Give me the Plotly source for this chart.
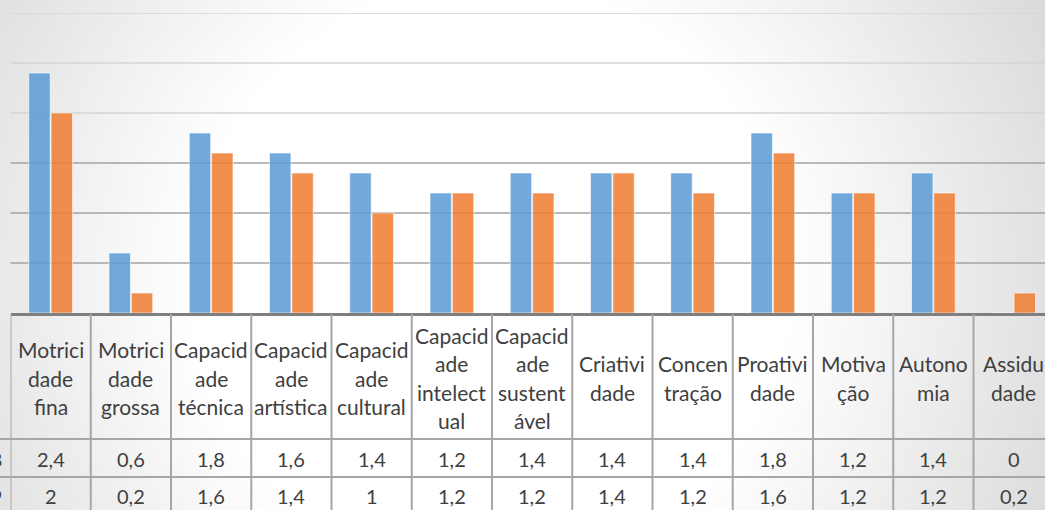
"""Gráfico de barras agrupadas com tabela de dados (estilo Excel)."""

import base64
import math
import struct
import zlib

import plotly.graph_objects as go

# --- dados -----------------------------------------------------------------
categorias = [
    "Motricidade fina", "Motricidade grossa", "Capacidade técnica",
    "Capacidade artística", "Capacidade cultural", "Capacidade intelectual",
    "Capacidade sustentável", "Criatividade", "Concentração", "Proatividade",
    "Motivação", "Autonomia", "Assiduidade",
]
# rótulos quebrados como aparecem nas células da tabela
rotulos_tabela = [
    ["Motrici", "dade", "fina"], ["Motrici", "dade", "grossa"],
    ["Capacid", "ade", "técnica"], ["Capacid", "ade", "artística"],
    ["Capacid", "ade", "cultural"], ["Capacid", "ade", "intelect", "ual"],
    ["Capacid", "ade", "sustent", "ável"], ["Criativi", "dade"],
    ["Concen", "tração"], ["Proativi", "dade"], ["Motiva", "ção"],
    ["Autono", "mia"], ["Assidu", "dade"],
]
serie_1_nome = "2018"
serie_1 = [2.4, 0.6, 1.8, 1.6, 1.4, 1.2, 1.4, 1.4, 1.4, 1.8, 1.2, 1.4, 0]
serie_2_nome = "2019"
serie_2 = [2, 0.2, 1.6, 1.4, 1, 1.2, 1.2, 1.4, 1.2, 1.6, 1.2, 1.2, 0.2]
grade_y = [0.5, 1.0, 1.5, 2.0, 2.5, 3.0]

# --- estilo ----------------------------------------------------------------
W, H = 1045, 510
AZUL = "rgba(91,155,213,0.86)"
LARANJA = "rgba(237,125,49,0.86)"
TEXTO = "#404040"
LINHA_TAB = "#a6a6a6"
FONTE = "Lato, 'Open Sans', sans-serif"

X0 = 10.5          # borda esquerda da área de plotagem (px)
COL = 80.25        # largura de cada coluna/categoria (px)
Y_BASE = 313       # linha de base (px)
Y_TOPO = 13        # linha de grade de 3,0 (px)


def py(px):
    """px a partir do topo -> coordenada 'paper'."""
    return 1 - px / H


def _fundo_png():
    """Gradiente radial cinza/branco, como o fundo do gráfico original."""
    esc = 4
    w, h = W // esc + 1, H // esc + 1
    linhas = []
    for j in range(h):
        row = bytearray([0])
        for i in range(w):
            d = math.hypot(i * esc - 490, j * esc - 280)
            t = min(max((d - 300) / 350, 0), 1)
            row.append(int(round(255 - 40 * t)))
        linhas.append(bytes(row))

    def chunk(tag, data):
        return (struct.pack(">I", len(data)) + tag + data
                + struct.pack(">I", zlib.crc32(tag + data) & 0xFFFFFFFF))

    png = (b"\x89PNG\r\n\x1a\n"
           + chunk(b"IHDR", struct.pack(">IIBBBBB", w, h, 8, 0, 0, 0, 0))
           + chunk(b"IDAT", zlib.compress(b"".join(linhas), 9))
           + chunk(b"IEND", b""))
    return "data:image/png;base64," + base64.b64encode(png).decode()


fig = go.Figure()
for nome, valores, cor in [(serie_1_nome, serie_1, AZUL), (serie_2_nome, serie_2, LARANJA)]:
    fig.add_trace(go.Bar(
        x=list(range(len(categorias))), y=valores, name=nome,
        marker=dict(color=cor, line=dict(color="rgba(255,255,255,0.6)", width=1)),
        hovertext=categorias,
    ))

shapes = []
# linhas de grade (as de cima aparecem mais claras no original)
for v in grade_y:
    shapes.append(dict(
        type="line", xref="paper", yref="y", x0=X0 / W, x1=1, y0=v, y1=v,
        line=dict(color="#d4d4d4" if v >= 2 else "#a3a3a3", width=1.6),
        layer="below",
    ))

# tabela de dados: verticais nas fronteiras das categorias
for i in range(len(categorias) + 1):
    shapes.append(dict(
        type="line", xref="x", yref="paper", x0=i - 0.5, x1=i - 0.5,
        y0=py(Y_BASE + 1), y1=0, line=dict(color=LINHA_TAB, width=2),
    ))
# horizontais (cabeçalho / linhas de valores)
for yy in [439, 477]:
    shapes.append(dict(
        type="line", xref="paper", yref="paper", x0=0, x1=1, y0=py(yy), y1=py(yy),
        line=dict(color=LINHA_TAB, width=2),
    ))

anot = []
ESP = 28.5
for i, linhas in enumerate(rotulos_tabela):
    y_ini = 378 - ESP * (len(linhas) - 1) / 2
    for k, txt in enumerate(linhas):
        anot.append(dict(
            x=i, xref="x", y=py(y_ini + k * ESP), yref="paper", text=txt,
            showarrow=False, xanchor="center", yanchor="middle",
            font=dict(size=21, color=TEXTO),
        ))
for y_lin, valores, nome in [(459, serie_1, serie_1_nome), (496, serie_2, serie_2_nome)]:
    for i, v in enumerate(valores):
        anot.append(dict(
            x=i, xref="x", y=py(y_lin), yref="paper",
            text=f"{v:g}".replace(".", ","), showarrow=False,
            xanchor="center", yanchor="middle", font=dict(size=20, color=TEXTO),
        ))
    # rótulo da série (cortado na borda esquerda, como no original)
    anot.append(dict(
        x=4 / W, xref="paper", y=py(y_lin), yref="paper", text=nome,
        showarrow=False, xanchor="right", yanchor="middle",
        font=dict(size=20, color=TEXTO),
    ))

fig.update_layout(
    width=W, height=H,
    margin=dict(l=0, r=0, t=0, b=0),
    paper_bgcolor="white",
    plot_bgcolor="rgba(0,0,0,0)",
    font=dict(family=FONTE, color=TEXTO),
    showlegend=False,
    barmode="group",
    bargap=0.444,
    bargroupgap=0.04,
    xaxis=dict(
        domain=[X0 / W, 1],
        range=[-0.5, -0.5 + (W - X0) / COL],
        showticklabels=False, ticks="", showgrid=False, zeroline=False,
        showline=True, linecolor="#7f7f7f", linewidth=2.5,
    ),
    yaxis=dict(
        domain=[py(Y_BASE), py(Y_TOPO)],
        range=[0, 3],
        showticklabels=False, ticks="", showgrid=False, zeroline=False,
    ),
    shapes=shapes,
    annotations=anot,
    images=[dict(
        source=_fundo_png(), xref="paper", yref="paper", x=0, y=1,
        sizex=1, sizey=1, xanchor="left", yanchor="top",
        sizing="stretch", layer="below",
    )],
)

# a página padrão tem margem de 8px no body; zera para o gráfico ocupar a janela
fig.write_html(
    "out.html",
    config={"displayModeBar": False},
    post_script="document.body.style.margin='0px';",
)
